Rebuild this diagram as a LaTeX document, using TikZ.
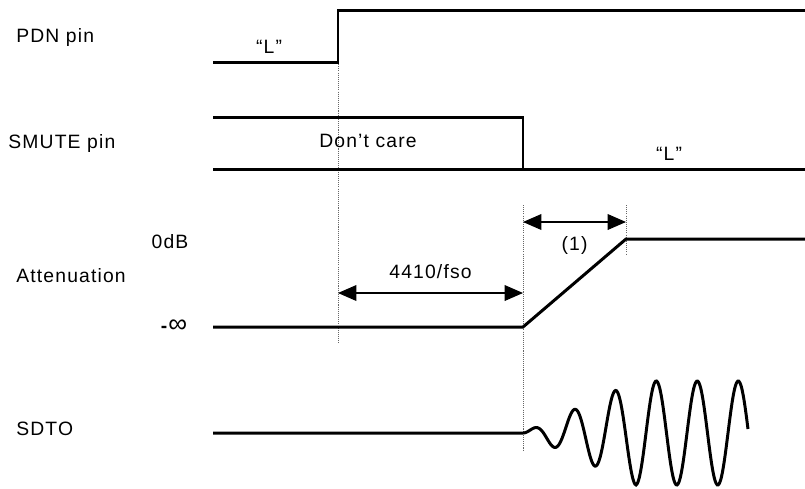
\documentclass[tikz,border=0pt]{standalone}
\usepackage{fontspec}
\setmainfont{Liberation Sans}[LetterSpace=6]
\usetikzlibrary{arrows.meta}

\begin{document}
\begin{tikzpicture}[x=0.02cm,y=-0.02cm]
    \tikzstyle{signal}=[line width=1.7pt,line join=miter]
    \tikzstyle{guide}=[gray!80!black,line width=0.5pt,dash pattern=on 0.6pt off 0.6pt]
    \tikzstyle{dim}=[line width=0.6pt,{Triangle[length=10.5pt,width=9pt]}-{Triangle[length=10.5pt,width=9pt]}]
    \tikzstyle{label}=[inner sep=0pt,font=\fontsize{11}{13}\selectfont]

    \useasboundingbox (0,0) rectangle (805,488);

    % names on the left
    \node[label,anchor=west] at (16,37) (pdnname) {PDN pin};
    \node[label,anchor=west] at (8,143) (smutename) {SMUTE pin};
    \node[label,anchor=west] at (16,276) (attname) {Attenuation};
    \node[label,anchor=west] at (16,429) (sdtoname) {SDTO};
    \node[label] at (170,242) (zerodb) {0dB};
    \node[label] at (174,326) (minf) {\textbf{-}\fontsize{15}{15}\selectfont∞};

    % time marks
    \coordinate (t1) at (338,62);
    \coordinate (t2) at (523,327);
    \coordinate (t3) at (626,239);

    \draw[guide] (t1) -- (338,344);
    \draw[guide] (523,205) -- (523,450);
    \draw[guide] (626,205) -- (626,255);

    % PDN
    \draw[signal] (213,62) -- (t1) -- (338,10) -- (805,10);
    \node[label] at (269,47) (pdnlow) {“L”};

    % SMUTE
    \draw[signal] (213,117) -- (523,117) -- (523,169);
    \draw[signal] (213,169) -- (805,169);
    \node[label] at (368,141) (dontcare) {Don’t care};
    \node[label] at (669,154) (smutelow) {“L”};

    % attenuation
    \draw[signal] (213,327) -- (t2) -- (t3) -- (805,239);
    \draw[dim] (338,293) -- node[label,above=8pt] (wait) {4410/fso} (523,293);
    \draw[dim] (523,222) -- node[label,below=8pt] (ramp) {(1)} (626,222);

    % SDTO
    \draw[signal] (213,433) -- (523,433)
        plot[domain=0:225,samples=220,smooth] ({523+\x},{433-min(52,0.46*\x)*sin(\x/41*360)});
\end{tikzpicture}
\end{document}
